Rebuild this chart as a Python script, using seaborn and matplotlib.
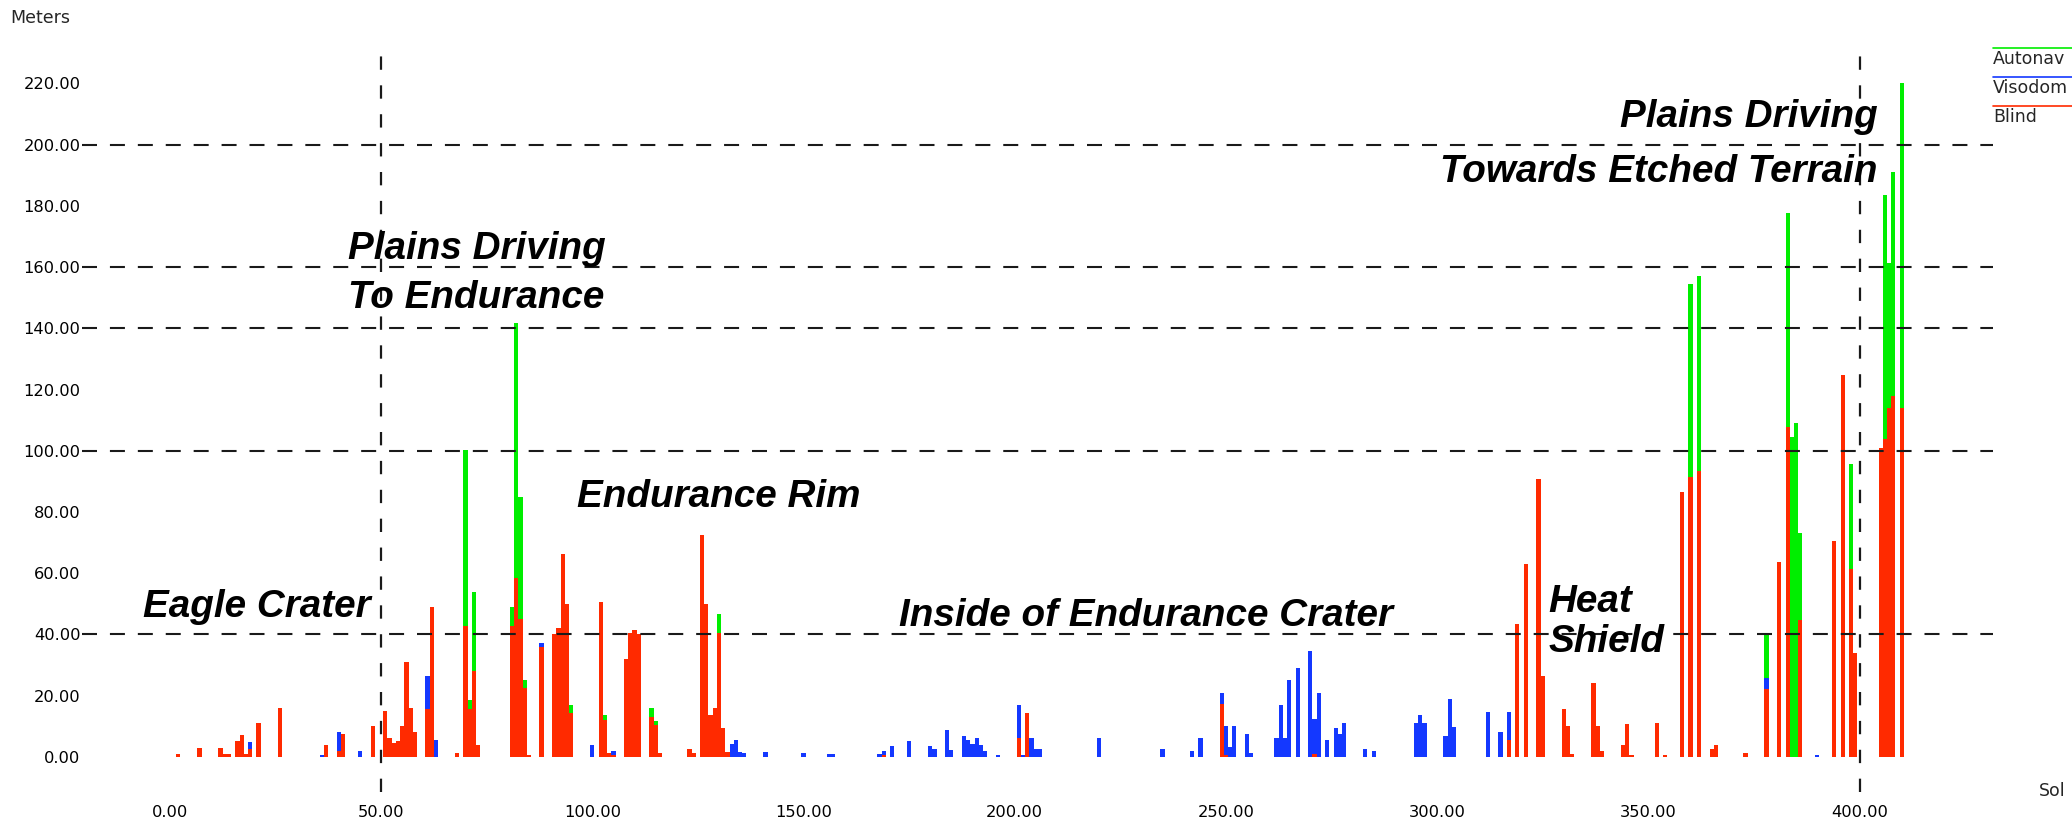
import matplotlib
matplotlib.use("Agg")
import matplotlib.pyplot as plt
from matplotlib.lines import Line2D
import pandas as pd
import seaborn as sns

# ---- data: meters driven per sol, split by driving mode ----
sols = [2, 7, 12, 13, 14, 16, 17, 18, 19, 21, 26, 36, 37, 40, 41, 45, 48,
        51, 52, 53, 54, 55, 56, 57, 58, 61, 62, 63, 68, 70, 71, 72, 73,
        81, 82, 83, 84, 85, 88, 91, 92, 93, 94, 95, 100, 102, 103, 104, 105,
        108, 109, 110, 111, 114, 115, 116, 123, 124, 126, 127, 128, 129, 130,
        131, 132, 133, 134, 135, 136, 141, 150, 156, 157, 168, 169, 171, 175,
        180, 181, 184, 185, 188, 189, 190, 191, 192, 193, 196, 201, 202, 203,
        204, 205, 206, 220, 235, 242, 244, 249, 250, 251, 252, 255, 256,
        262, 263, 264, 265, 267, 270, 271, 272, 274, 276, 277, 278, 283, 285,
        295, 296, 297, 302, 303, 304, 312, 315, 317, 319, 321, 324, 325,
        330, 331, 332, 337, 338, 339, 344, 345, 346, 352, 354, 358, 360, 362,
        365, 366, 373, 378, 381, 383, 384, 385, 386, 390, 394, 396, 398, 399,
        405, 406, 407, 408, 410]
blind = [1, 3, 3, 1, 1, 5, 7, 1, 2.7, 11, 16, 0, 4, 2, 7.5, 0, 10,
         15, 6, 4.5, 5, 10, 31, 16, 8, 15.5, 49, 0, 1.3, 42.7, 15.5, 28, 4,
         42.7, 58.3, 45, 22.5, 0.5, 36, 40, 42, 66.4, 50, 14.2, 0, 50.7, 12, 1.3, 0.5,
         31.8, 40.5, 41.5, 40, 12.9, 10.3, 1.3, 2.7, 1.3, 72.4, 50, 13.6, 15.8, 40.6,
         9.5, 1.6, 0, 0, 0, 0, 0, 0, 0, 0, 0, 0.5, 0, 0,
         0, 0, 0, 0, 0, 0, 0, 0, 0, 0, 0, 6, 0, 14.2,
         0, 0, 0, 0, 0, 0, 0, 17.4, 0.5, 0, 0, 0, 0,
         0, 0, 0, 0, 0, 0, 0.8, 0, 0, 0, 0, 0, 0, 0,
         0, 0, 0, 0, 0, 0, 0, 0, 5.4, 43.4, 63, 90.6, 26.4,
         15.5, 10, 1, 24.2, 10, 2, 3.8, 10.7, 0.5, 10.9, 0.5, 86.6, 91.5, 93.5,
         2.7, 4, 1.3, 22.3, 63.7, 107.6, 0, 0, 44.7, 0, 70.5, 124.7, 61.5, 33.8,
         101, 103.7, 113.8, 117.9, 113.8]
visodom = [0, 0, 0, 0, 0, 0, 0, 0, 2, 0, 0, 0.5, 0, 6, 0, 2, 0,
           0, 0, 0, 0, 0, 0, 0, 0, 11, 0, 5.4, 0, 0, 0, 0, 0,
           0, 0, 0, 0, 0, 1.3, 0, 0, 0, 0, 0, 4, 0, 0, 0, 1.5,
           0, 0, 0, 0, 0, 0, 0, 0, 0, 0, 0, 0, 0, 0,
           0, 0, 4.1, 5.4, 1.6, 1.1, 1.6, 1.1, 1, 1, 1, 1.5, 3.6, 5.2,
           3.6, 2.5, 8.9, 2.2, 6.8, 5.4, 4.1, 6, 4, 2, 0.5, 10.9, 0.5, 0,
           6, 2.7, 2.7, 6, 2.7, 2, 6, 3.5, 9.5, 3.3, 10, 7.3, 1.1,
           6, 16.9, 6, 25, 29, 34.5, 11.4, 21, 5.4, 9.5, 7.3, 10.9, 2.7, 2,
           10.9, 13.6, 10.9, 6.8, 19, 9.6, 14.7, 8.2, 9.3, 0, 0, 0, 0,
           0, 0, 0, 0, 0, 0, 0, 0, 0, 0, 0, 0, 0, 0,
           0, 0, 0, 3.6, 0, 0, 0, 0, 0, 0.5, 0, 0, 0, 0,
           0, 0, 0, 0, 0]
autonav = [0, 0, 0, 0, 0, 0, 0, 0, 0, 0, 0, 0, 0, 0, 0, 0, 0,
           0, 0, 0, 0, 0, 0, 0, 0, 0, 0, 0, 0, 57.5, 3, 25.8, 0,
           6.1, 83.3, 39.8, 2.5, 0, 0, 0, 0, 0, 0, 2.7, 0, 0, 1.6, 0, 0,
           0, 0, 0, 0, 3.2, 1.4, 0, 0, 0, 0, 0, 0, 0, 6.2,
           0, 0, 0, 0, 0, 0, 0, 0, 0, 0, 0, 0, 0, 0,
           0, 0, 0, 0, 0, 0, 0, 0, 0, 0, 0, 0, 0, 0,
           0, 0, 0, 0, 0, 0, 0, 0, 0, 0, 0, 0, 0,
           0, 0, 0, 0, 0, 0, 0, 0, 0, 0, 0, 0, 0, 0,
           0, 0, 0, 0, 0, 0, 0, 0, 0, 0, 0, 0, 0,
           0, 0, 0, 0, 0, 0, 0, 0, 0, 0, 0, 0, 63, 63.6,
           0, 0, 0, 13.9, 0, 70, 104.4, 109.2, 28.5, 0, 0, 0, 34, 0,
           0, 79.8, 47.4, 73, 106.5]

modes = ["Autonav", "Visodom", "Blind"]
mode_colors = {"Autonav": "#00ee00", "Visodom": "#1438ff", "Blind": "#ff2a00"}

y_ticks = [0, 20, 40, 60, 80, 100, 120, 140, 160, 180, 200, 220]
x_ticks = [0, 50, 100, 150, 200, 250, 300, 350, 400]
grid_y = [40, 100, 140, 160, 200]
grid_x = [50, 400]

# region labels: (text, x in sol, y in meters, alignment)
region_text = ["Eagle Crater", "Plains Driving", "To Endurance", "Endurance Rim",
               "Inside of Endurance Crater", "Heat", "Shield",
               "Plains Driving", "Towards Etched Terrain"]
region_x = [-6.4, 42.2, 42.2, 96.5, 172.5, 326.3, 326.3, 404.2, 404.2]
region_y = [45.7, 162.6, 146.5, 81.6, 42.7, 47.4, 34.3, 205.9, 187.9]
region_ha = ["left"] * 7 + ["right"] * 2

df = pd.DataFrame({"sol": sols, "Blind": blind, "Visodom": visodom, "Autonav": autonav})
long_df = df.melt(id_vars="sol", var_name="mode", value_name="meters")

sns.set_style("white")
plt.rcParams["font.family"] = ["DejaVu Sans"]

fig = plt.figure(figsize=(20.72, 8.22), dpi=100)
ax = fig.add_axes([82 / 2072, 30 / 822, (1993 - 82) / 2072, (792 - 47) / 822])

sns.histplot(data=long_df, x="sol", weights="meters", hue="mode", hue_order=modes,
             multiple="stack", discrete=True, shrink=1.0, palette=mode_colors,
             alpha=1, linewidth=0, legend=False, ax=ax)

ax.set_xlim(-20.8, 431.6)
ax.set_ylim(-11.5, 231.9)

# dashed guide lines, drawn over the bars
for gy in grid_y:
    ax.axhline(gy, color="#1a1a1a", lw=1.5, linestyle=(0, (7.2, 6.2)), zorder=5)
for gx in grid_x:
    ax.axvline(gx, color="#1a1a1a", lw=1.6, linestyle=(0, (6.0, 7.0)), zorder=5)

ax.set_xticks(x_ticks)
ax.set_xticklabels([f"{v:.2f}" for v in x_ticks])
ax.set_yticks(y_ticks)
ax.set_yticklabels([f"{v:.2f}" for v in y_ticks])
ax.tick_params(axis="both", length=0, labelsize=11.7, colors="black")
ax.tick_params(axis="x", pad=9)
ax.tick_params(axis="y", pad=1)
ax.set_xlabel("")
ax.set_ylabel("")
for s in ax.spines.values():
    s.set_visible(False)

for txt, tx, ty, ha in zip(region_text, region_x, region_y, region_ha):
    ax.text(tx, ty, txt, ha=ha, va="baseline", fontsize=27.8,
            family="Liberation Sans", weight="bold", style="italic",
            color="black", zorder=6, clip_on=False)

# axis titles
fig.text(10 / 2072, 1 - 9 / 822, "Meters", ha="left", va="top", fontsize=12.5)
fig.text(2039 / 2072, 1 - 782 / 822, "Sol", ha="left", va="top", fontsize=12.5)

# legend: coloured line above each label, at the top right edge
legend_y = [48, 77, 106]
for mode, ly in zip(modes, legend_y):
    fig.add_artist(Line2D([1993 / 2072, 1.0], [1 - ly / 822, 1 - ly / 822],
                          color=mode_colors[mode], lw=1.2))
    fig.text(1993 / 2072, 1 - (ly + 2) / 822, mode, ha="left", va="top", fontsize=12.5)

fig.savefig("out.png", dpi=100, facecolor="white")
